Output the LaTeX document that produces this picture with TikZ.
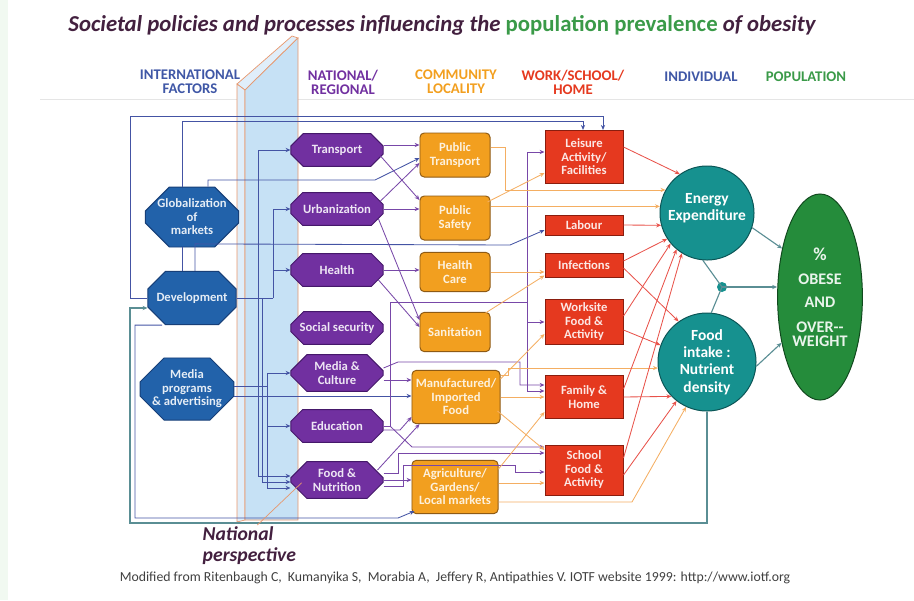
\documentclass[tikz,border=0pt]{standalone}
\usepackage{fontspec}
\setmainfont{Carlito}
\usetikzlibrary{arrows.meta,positioning,shapes.misc,shapes.geometric,calc,backgrounds}
\definecolor{ctitle}{HTML}{43203F}
\definecolor{cgreen}{HTML}{3A9A48}
\definecolor{chead}{HTML}{3F57A6}
\definecolor{cintl}{HTML}{2262AA}
\definecolor{cintlD}{HTML}{173F78}
\definecolor{cnat}{HTML}{7130A0}
\definecolor{cnatD}{HTML}{45186A}
\definecolor{ccomm}{HTML}{F29F1F}
\definecolor{ccommD}{HTML}{8E5A14}
\definecolor{chome}{HTML}{E5391F}
\definecolor{chomeD}{HTML}{8A1D0E}
\definecolor{cindiv}{HTML}{16918F}
\definecolor{cindivD}{HTML}{0B5556}
\definecolor{cpop}{HTML}{258C3B}
\definecolor{cpopD}{HTML}{11491E}
\definecolor{cpanel}{HTML}{C6E1F5}
\definecolor{cedge}{HTML}{E8976C}
\definecolor{lblue}{HTML}{4454A4}
\definecolor{lpurp}{HTML}{7848A8}
\definecolor{lorng}{HTML}{F4AE62}
\definecolor{lred}{HTML}{E8524A}
\definecolor{lteal}{HTML}{5A8E94}

\begin{document}
\begin{tikzpicture}[
  x=0.025cm, y=-0.025cm,
  font=\bfseries\fontsize{9}{9.6}\selectfont,
  intl/.style={chamfered rectangle, chamfered rectangle xsep=0.3cm,
               chamfered rectangle ysep=0.3cm, draw=cintlD, fill=cintl,
               text=cintl!12, line width=0.7pt, align=center, inner sep=0pt,
               minimum width=2.2cm, minimum height=1.33cm},
  nat/.style={chamfered rectangle, chamfered rectangle xsep=0.22cm,
              chamfered rectangle ysep=0.18cm, draw=cnatD, fill=cnat,
              text=cnat!12, line width=0.7pt, align=center, inner sep=0pt,
              minimum width=2.3cm, minimum height=0.82cm},
  comm/.style={draw=ccommD, fill=ccomm, text=ccomm!15, rounded corners=3pt,
               line width=0.7pt, align=center, inner sep=1pt,
               minimum width=1.75cm},
  home/.style={draw=chomeD, fill=chome, text=chome!12, line width=0.7pt,
               align=center, inner sep=1pt, minimum width=1.95cm},
  indiv/.style={circle, draw=cindivD, fill=cindiv, text=white,
                line width=0.7pt, align=center, inner sep=0pt,
                font=\bfseries\fontsize{11}{12.3}\selectfont},
  head/.style={align=center, font=\bfseries\fontsize{10.5}{10}\selectfont},
  ar/.style={-{Stealth[length=3.5pt,width=3pt]}},
  bl/.style={draw=lblue, line width=0.6pt},
  pl/.style={draw=lpurp, line width=0.6pt},
  ol/.style={draw=lorng, line width=0.6pt},
  rl/.style={draw=lred, line width=0.6pt},
  tl/.style={draw=lteal, line width=0.8pt},
]
\useasboundingbox (0,0) rectangle (914,600);
\fill[green!40!gray!8] (0,0) rectangle (8,600);

%% ---------- title and column heads ----------
\node[font=\bfseries\fontsize{16.2}{18}\selectfont] (title) at (442,25)
  {\textcolor{ctitle}{\itshape Societal policies and processes influencing the }\textcolor{cgreen}{population prevalence }\textcolor{ctitle}{\itshape of obesity}};

\node[head, text=chead] (hintl) at (190,82) {INTERNATIONAL\\FACTORS};
\node[head, text=cnat] (hnat) at (343,82) {NATIONAL/\\REGIONAL};
\node[head, text=ccomm] (hcomm) at (456,82) {COMMUNITY\\LOCALITY};
\node[head, text=chome] (hwork) at (573,82) {WORK/SCHOOL/\\HOME};
\node[head, text=chead] (hindiv) at (701,77) {INDIVIDUAL};
\node[head, text=cgreen] (hpop) at (806,77) {POPULATION};
\draw[gray!20] (40,99) -- (914,99);

%% ---------- national perspective slab ----------
\filldraw[draw=cedge, fill=cpanel!55, line width=0.5pt]
  (237,84) -- (292,36) -- (298,38) -- (245,90) -- cycle;
\filldraw[draw=cedge, fill=cpanel!55, line width=0.5pt]
  (237,84) -- (245,90) -- (245,520) -- (237,522) -- cycle;
\filldraw[draw=cedge, fill=cpanel, line width=0.5pt]
  (245,90) -- (298,38) -- (298,520) -- (245,520) -- cycle;

%% ---------- international ----------
\node[intl] (glob) at (192,217) {Globalization\\of\\markets};
\node[intl] (dev) at (192,298) {Development};
\node[intl, minimum width=2.15cm, minimum height=1.38cm] (media) at (187,389)
  {Media\\programs\\\& advertising};

%% ---------- national / regional ----------
\node[nat] (trans) at (337,150) {Transport};
\node[nat] (urban) at (337,209) {Urbanization};
\node[nat] (hlth) at (337,270) {Health};
\node[nat] (socsec) at (337,328) {Social security};
\node[nat] (medcul) at (337,373) {Media \&\\Culture};
\node[nat] (educ) at (337,426) {Education};
\node[nat] (foodn) at (337,480) {Food \&\\Nutrition};

%% ---------- community ----------
\node[comm, minimum height=1.1cm] (ptrans) at (455,155) {Public\\Transport};
\node[comm, minimum height=1.1cm] (psafe) at (455,218) {Public\\Safety};
\node[comm, minimum height=0.98cm] (hcare) at (455,272) {Health\\Care};
\node[comm, minimum height=0.98cm] (sanit) at (455,332) {Sanitation};
\node[comm, minimum width=2.2cm, minimum height=1.33cm] (manuf) at (456,397)
  {Manufactured/\\Imported\\Food};
\node[comm, minimum width=2.15cm, minimum height=1.33cm] (agri) at (455,487)
  {Agriculture/\\Gardens/\\Local markets};

%% ---------- work / school / home ----------
\node[home, minimum height=1.33cm] (leis) at (584,157) {Leisure\\Activity/\\Facilities};
\node[home, minimum height=0.5cm] (labour) at (584,225) {Labour};
\node[home, minimum height=0.6cm] (infect) at (584,265) {Infections};
\node[home, minimum height=1.13cm] (work) at (584,322) {Worksite\\Food \&\\Activity};
\node[home, minimum height=1.08cm] (family) at (584,397) {Family \&\\Home};
\node[home, minimum height=1.25cm] (school) at (584,470) {School\\Food \&\\Activity};

%% ---------- individual / population ----------
\node[indiv, minimum size=2.35cm] (energy) at (707,213) {Energy\\Expenditure\\[-4pt]};
\node[indiv, minimum size=2.45cm] (intake) at (707,362) {Food\\intake :\\Nutrient\\density};
\node[ellipse, draw=cpopD, fill=cpop, text=cpop!10, line width=0.7pt,
      minimum width=2.12cm, minimum height=5.15cm, align=center, inner sep=0pt,
      font=\bfseries\fontsize{11.5}{10}\selectfont] (obese) at (820,297)
  {{\fontsize{13}{10}\selectfont\%}\\[7.5pt]OBESE\\[6.5pt]AND\\[7.5pt]OVER-{}-\\WEIGHT};
\fill[cindiv] (722,287) circle (5) coordinate (jn);

%% ---------- international links ----------
\draw[bl, ar] (dev.west) -- ++(-17,0) |- ($(leis.north)+(19,-13)$) -- ($(leis.north)+(19,0)$);
\draw[bl, ar] ($(glob.north)+(-10,0)$) -- ++(0,-65) -| ($(leis.north)+(-1,0)$);
\draw[bl, ar] ($(glob.north)+(16,0)$) |- (375,180) -- ($(ptrans.west)+(0,3)$);
\draw[bl] ($(glob.south)+(-10,0)$) -- ($(dev.north)+(-10,0)$);
\draw[bl, ar] ($(dev.north)+(3,0)$) -- ++(0,-27) -- (510,245) -- ($(labour.west)+(0,5)$);
\draw[bl] (dev.east) -- (273,298);
\draw[bl, ar] (258,298) |- (trans.west);
\draw[bl, ar] (273,298) |- (urban.west);
\draw[bl, ar] (273,298) |- (hlth.west);
\draw[bl, ar] (258,298) |- ($(foodn.west)+(0,-4)$);
\draw[bl, ar] (262,298) |- ($(foodn.west)+(0,2)$);
\coordinate (mbus) at (267,386);
\draw[bl] ($(media.east)+(0,-3)$) -- (mbus);
\draw[bl, ar] (mbus) |- (medcul.west);
\draw[bl, ar] (mbus) |- (educ.west);
\draw[bl, ar] (mbus) |- ($(foodn.west)+(0,8)$);
\draw[bl, ar] ($(media.east)+(0,7)$) -- ($(manuf.west)+(0,-1)$);
\draw[bl, ar] ($(dev.south)+(-30,0)$) -- ++(-27,0) |- (398,518)
  -- ($(agri.south west)+(3,-3)$);

%% ---------- national to community ----------
\draw[pl, ar] ($(trans.east)+(0,-5)$) -- ($(ptrans.west)+(0,-10)$);
\draw[pl, ar] ($(trans.east)+(-3,6)$) -- ($(psafe.west)+(0,-18)$);
\draw[pl, ar] ($(urban.east)+(-3,-8)$) -- ($(ptrans.west)+(0,8)$);
\draw[pl, ar] (urban.east) -- (urban.east -| psafe.west);
\draw[pl, ar] ($(urban.east)+(-5,10)$) -- ($(sanit.west)+(0,-12)$);
\draw[pl, ar] (hlth.east) -- (hlth.east -| hcare.west);
\draw[pl, ar] ($(hlth.east)+(-5,10)$) -- ($(sanit.west)+(0,-5)$);
\draw[pl, ar] ($(medcul.east)+(0,7)$) -- ($(medcul.east -| manuf.west)+(0,7)$);
\draw[pl, ar] ($(medcul.east)+(0,-5)$) -- (398,362) -- (520,362) |- ($(family.west)+(0,-12)$);
\coordinate (ebus) at (527,302);
\draw[pl] (educ.east) -- (390,426) -- (390,302) -- (ebus);
\draw[pl, ar] (ebus) |- ($(leis.west)+(0,-5)$);
\draw[pl, ar] (ebus) |- (work.west);
\draw[pl, ar] (ebus) |- ($(family.west)+(0,-6)$);
\draw[pl, ar] (390,426) -- (412,447) -- ($(school.west)+(0,-23)$);
\draw[pl, ar] ($(educ.east)+(0,4)$) -- (400,430) -- ($(manuf.west)+(0,20)$);
\draw[pl, ar] ($(foodn.east)+(-6,-10)$) -- ($(manuf.south west)+(8,0)$);
\draw[pl, ar] (foodn.east) -- (foodn.east -| agri.west);
\draw[pl, ar] ($(foodn.east)+(0,-7)$) -- (398,473) |- ($(school.west)+(0,-17)$);
\draw[pl, ar] ($(foodn.east)+(0,6)$) -- (403,486) -- (403,465) -- (515,465) |- ($(school.west)+(0,2)$);

%% ---------- community to setting / individual ----------
\draw[ol, ar] ($(ptrans.east)+(0,-8)$) -- (505,147) |- (energy.151);
\draw[ol, ar] (psafe.east |- energy.172) -- (energy.172);
\draw[ol, ar] ($(psafe.east)+(-3,-16)$) -- ($(leis.west)+(0,16)$);
\draw[ol, ar] (hcare.east) -- (hcare.east -| infect.west);
\draw[ol, ar] ($(sanit.east)+(-5,-19)$) -- ($(infect.south west)+(0,-2)$);
\draw[ol, ar] ($(manuf.east)+(0,-18)$) -- ($(work.west)+(0,12)$);
\draw[ol, ar] (manuf.east) -- (manuf.east -| family.west);
\draw[ol, ar] ($(manuf.east)+(-3,14)$) -- ($(school.west)+(0,-20)$);
\draw[ol, ar] ($(manuf.east)+(0,-22)$) -- ++(8,0) |- (intake.187);
\draw[ol, ar] ($(agri.east)+(0,-18)$) -- ($(family.west)+(0,15)$);
\draw[ol, ar] ($(agri.east)+(0,-4)$) -- ($(agri.east -| school.west)+(0,-4)$);
\draw[ol, ar] ($(agri.east)+(0,15)$) -- (632,502) -- (intake.245);

%% ---------- setting to individual ----------
\draw[rl, ar] ($(leis.east)+(0,-10)$) -- (energy.125);
\draw[rl, ar] (labour.east) -- (energy.195);
\draw[rl, ar] ($(infect.east)+(0,-4)$) -- (energy.213);
\draw[rl, ar] ($(infect.east)+(0,3)$) -- (intake.125);
\draw[rl, ar] ($(work.east)+(0,-6)$) -- (energy.220);
\draw[rl, ar] ($(work.east)+(0,8)$) -- (intake.160);
\draw[rl, ar] (family.east) -- (intake.224);
\draw[rl, ar] ($(family.east)+(0,-8)$) -- (energy.230);
\draw[rl, ar] ($(school.east)+(0,-12)$) -- (energy.238);
\draw[rl, ar] ($(school.east)+(0,5)$) -- (intake.232);

%% ---------- individual to population ----------
\draw[tl, ar] (energy.-18) -- (obese.128);
\draw[tl, ar] (intake.-5) -- (obese.230);
\draw[tl] (energy.265) -- (jn) -- (intake.85);
\draw[tl, ar] (jn) -- (jn -| obese.west);
\draw[tl, ar] (intake.south) -- (707,523) -| (130,308) -- ($(dev.west)+(0,10)$);

%% ---------- labels ----------
\node[font=\bfseries\itshape\fontsize{14}{15}\selectfont, text=ctitle, align=left,
      anchor=north west, inner sep=1pt] (natlbl) at (201,525) {National\\perspective};
\draw[cedge, line width=0.5pt] ($(natlbl.north)+(8,0)$) -- ($(foodn.south west)+(3,-8)$);
\node[font=\fontsize{9.8}{11}\selectfont, text=black!75] (src) at (455,578)
  {Modified from Ritenbaugh C,\ \ Kumanyika S,\ \ Morabia A,\ \ Jeffery R, Antipathies V. IOTF website 1999: http://www.iotf.org};

\end{tikzpicture}
\end{document}
